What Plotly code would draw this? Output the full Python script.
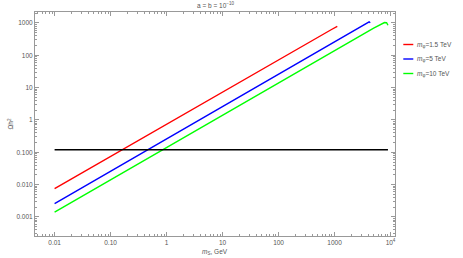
import plotly.graph_objects as go

# ---- data ----
x_red = [0.01, 0.1, 1, 10, 100, 500, 900, 1120]
y_red = [0.0075, 0.075, 0.75, 7.5, 75, 370, 640, 790]
x_blue = [0.01, 0.1, 1, 10, 100, 1000, 3000, 3800, 4150, 4350]
y_blue = [0.0026, 0.026, 0.26, 2.6, 26, 260, 780, 980, 1080, 1020]
x_green = [0.01, 0.1, 1, 10, 100, 1000, 5000, 7800, 8500, 9000]
y_green = [0.0014, 0.014, 0.14, 1.4, 14, 140, 690, 1030, 1020, 850]
x_obs = [0.01, 9000]
y_obs = [0.12, 0.12]

series_names = ["<i>m</i><sub>φ</sub>=1.5 TeV", "<i>m</i><sub>φ</sub>=5 TeV", "<i>m</i><sub>φ</sub>=10 TeV"]
series_colors = ["#ff0000", "#0000ff", "#00ff00"]

x_tickvals = [0.01, 0.1, 1, 10, 100, 1000, 10000]
x_ticktext = ["0.01", "0.10", "1", "10", "100", "1000", "10<sup>4</sup>"]
y_tickvals = [0.001, 0.01, 0.1, 1, 10, 100, 1000]
y_ticktext = ["0.001", "0.010", "0.100", "1", "10", "100", "1000"]

W, H = 463, 258
ml, mr, mt, mb = 34.5, 68.3, 12, 22
FS = 6.5
TXT = "#555"

fig = go.Figure()
for xs, ys, c, n in zip([x_red, x_blue, x_green], [y_red, y_blue, y_green], series_colors, series_names):
    fig.add_trace(go.Scatter(x=xs, y=ys, mode="lines", line=dict(color=c, width=1.4), name=n,
                             showlegend=False))
fig.add_trace(go.Scatter(x=x_obs, y=y_obs, mode="lines", line=dict(color="black", width=1.5),
                         showlegend=False))

pw = W - ml - mr
ph = H - mt - mb
def px2paper_x(px):
    return (px - ml) / pw
def px2paper_y(py):
    return (H - mb - py) / ph

# manual legend (short line segments like the original)
leg_y = [44.5, 59.0, 73.5]
for ly, c, n in zip(leg_y, series_colors, series_names):
    fig.add_shape(type="line", xref="paper", yref="paper",
                  x0=px2paper_x(403), x1=px2paper_x(413), y0=px2paper_y(ly), y1=px2paper_y(ly),
                  line=dict(color=c, width=1.4))
    fig.add_annotation(xref="paper", yref="paper", x=px2paper_x(415), y=px2paper_y(ly),
                       text=n, showarrow=False, xanchor="left", yanchor="middle",
                       font=dict(size=FS, color=TXT))

# axis titles and plot title as annotations
fig.add_annotation(xref="paper", yref="paper", x=0.5, y=px2paper_y(252),
                   text="<i>m</i><sub>S</sub>, GeV", showarrow=False,
                   xanchor="center", yanchor="middle", font=dict(size=FS, color=TXT))
fig.add_annotation(xref="paper", yref="paper", x=px2paper_x(10), y=0.5,
                   text="Ωh<sup>2</sup>", showarrow=False, textangle=-90,
                   xanchor="center", yanchor="middle", font=dict(size=FS, color=TXT))
fig.add_annotation(xref="paper", yref="paper", x=0.5, y=px2paper_y(5),
                   text="a = b = 10<sup>−10</sup>", showarrow=False,
                   xanchor="center", yanchor="middle", font=dict(size=FS, color=TXT))

axis_common = dict(
    type="log", showline=True, linecolor="#999", linewidth=1, mirror="allticks",
    ticks="inside", ticklen=4, tickcolor="#999", tickwidth=1,
    showgrid=False, zeroline=False, automargin=False,
    tickfont=dict(size=FS, color=TXT),
    minor=dict(ticks="inside", ticklen=2, tickcolor="#999", dtick="D1", showgrid=False),
)

fig.update_layout(
    width=W, height=H,
    margin=dict(l=ml, r=mr, t=mt, b=mb, pad=0),
    paper_bgcolor="white", plot_bgcolor="white",
    font=dict(family="Liberation Sans, Arial, sans-serif", size=FS, color=TXT),
    xaxis=dict(axis_common, range=[-2.35, 4.08], tickvals=x_tickvals, ticktext=x_ticktext),
    yaxis=dict(axis_common, range=[-3.59, 3.34], tickvals=y_tickvals, ticktext=y_ticktext),
    showlegend=False,
)

fig.write_html("out.html", config={"displayModeBar": False},
               post_script="document.body.style.margin='0';document.body.style.overflow='hidden';")
